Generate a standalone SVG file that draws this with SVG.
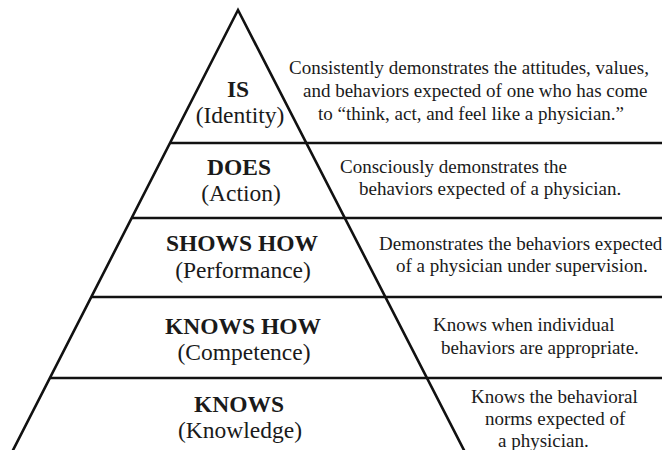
<svg xmlns="http://www.w3.org/2000/svg" width="662" height="450" viewBox="0 0 662 450">
<style>
.ln{stroke:#111;stroke-width:2.6;fill:none;stroke-linejoin:miter}
.t{font-family:"Liberation Serif","Times New Roman",serif;fill:#1a1a1a}
.h{font-size:23.5px;font-weight:bold;text-anchor:middle}
.s{font-size:23.5px;text-anchor:middle}
.d{font-size:19px}
</style>
<rect width="662" height="450" fill="#fff"/>
<g id="connectors">
<polyline class="ln" points="10,456 238,10 467,456"/>
<line class="ln" x1="170" y1="143" x2="662" y2="143"/>
<line class="ln" x1="132" y1="218" x2="662" y2="218"/>
<line class="ln" x1="91.5" y1="297" x2="662" y2="297"/>
<line class="ln" x1="50" y1="378" x2="662" y2="378"/>
</g>
<g id="is">
<text class="t h" x="238" y="97">IS</text>
<text class="t s" x="240" y="123">(Identity)</text>
<text class="t d" x="289" y="74">Consistently demonstrates the attitudes, values,</text>
<text class="t d" x="303" y="97">and behaviors expected of one who has come</text>
<text class="t d" x="318" y="120">to “think, act, and feel like a physician.”</text>
</g>
<g id="does">
<text class="t h" x="239" y="175">DOES</text>
<text class="t s" x="241" y="201">(Action)</text>
<text class="t d" x="340" y="173">Consciously demonstrates the</text>
<text class="t d" x="359" y="195">behaviors expected of a physician.</text>
</g>
<g id="shows-how">
<text class="t h" x="242" y="251">SHOWS HOW</text>
<text class="t s" x="243" y="278">(Performance)</text>
<text class="t d" x="379" y="250">Demonstrates the behaviors expected</text>
<text class="t d" x="396" y="272">of a physician under supervision.</text>
</g>
<g id="knows-how">
<text class="t h" x="243" y="334">KNOWS HOW</text>
<text class="t s" x="244" y="360">(Competence)</text>
<text class="t d" x="433" y="331">Knows when individual</text>
<text class="t d" x="441" y="354">behaviors are appropriate.</text>
</g>
<g id="knows">
<text class="t h" x="239" y="412">KNOWS</text>
<text class="t s" x="240" y="438">(Knowledge)</text>
<text class="t d" x="471" y="403">Knows the behavioral</text>
<text class="t d" x="485" y="425">norms expected of</text>
<text class="t d" x="498" y="447">a physician.</text>
</g>
</svg>
